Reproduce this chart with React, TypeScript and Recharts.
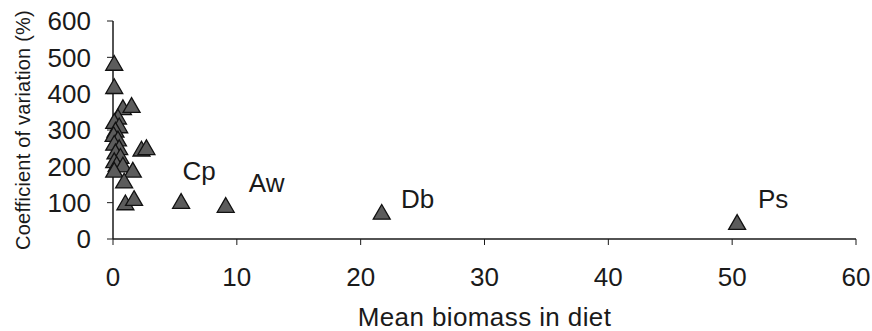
import {
  ScatterChart,
  Scatter,
  XAxis,
  YAxis,
  LabelList,
  Symbols,
} from "recharts";

// unlabelled species, bunched near zero
const clusterBiomass = [
  0.1, 0.1, 0.8, 1.5, 0.4, 0.1, 0.5, 0.2, 0.05, 0.4, 0.1, 0.5, 0.2, 0.6, 0.1,
  0.3, 2.3, 2.7, 0.8, 0.1, 1.6, 0.9, 1.0, 1.7,
];
const clusterCv = [
  478, 414, 356, 362, 330, 318, 306, 294, 282, 270, 258, 246, 234, 222, 210,
  200, 242, 246, 198, 184, 184, 154, 94, 106,
];

// labelled species
const namedSpecies = ["Cp", "Aw", "Db", "Ps"];
const namedBiomass = [5.5, 9.1, 21.7, 50.4];
const namedCv = [98, 87, 68, 40];

const xTicks = [0, 10, 20, 30, 40, 50, 60];
const yTicks = [0, 100, 200, 300, 400, 500, 600];

// where each name sits relative to its marker
const LABEL_OFFSET: Record<string, [number, number]> = {
  Cp: [18, -32],
  Aw: [41, -24],
  Db: [36, -15],
  Ps: [36, -25],
};

const clusterData = clusterBiomass.map((x, i) => ({ x, y: clusterCv[i] }));
const namedData = namedSpecies.map((name, i) => ({
  name,
  x: namedBiomass[i],
  y: namedCv[i],
}));

const FONT = "'Liberation Sans', Arial, sans-serif";
const INK = "#1a1a1a";

function Triangle(props: any) {
  const { cx, cy } = props;
  return (
    <Symbols
      type="triangle"
      size={125}
      cx={cx}
      cy={cy}
      fill="#5c5c5c"
      stroke="#111"
      strokeWidth={1.3}
    />
  );
}

function SpeciesLabel(props: any) {
  const { x, y, width, height, value } = props;
  const [dx, dy] = LABEL_OFFSET[value] || [0, 0];
  const cx = x + width / 2;
  const cy = y + height / 2;
  return (
    <text
      x={cx + dx}
      y={cy + dy}
      textAnchor="middle"
      dominantBaseline="central"
      fontFamily={FONT}
      fontSize={26}
      fill={INK}
    >
      {value}
    </text>
  );
}

export default function App() {
  return (
    <div style={{ position: "absolute", left: 0, top: 0, background: "#fff" }}>
      <ScatterChart
        width={872}
        height={331}
        margin={{ top: 21, right: 16, bottom: 0, left: 0 }}
      >
        <XAxis
          type="number"
          dataKey="x"
          domain={[0, 60]}
          ticks={xTicks}
          interval={0}
          height={92}
          tickSize={6}
          tickMargin={23}
          axisLine={{ stroke: INK, strokeWidth: 1.5 }}
          tickLine={{ stroke: INK }}
          tick={{ fill: INK, fontSize: 26, fontFamily: FONT }}
          label={{
            value: "Mean biomass in diet",
            position: "insideBottom",
            offset: 5,
            style: {
              fill: INK,
              fontSize: 26,
              fontFamily: FONT,
              letterSpacing: 0.4,
              textAnchor: "middle",
            },
          }}
        />
        <YAxis
          type="number"
          dataKey="y"
          domain={[0, 600]}
          ticks={yTicks}
          interval={0}
          width={113}
          tickSize={6}
          tickMargin={16}
          axisLine={{ stroke: INK, strokeWidth: 1.5 }}
          tickLine={{ stroke: INK }}
          tick={{ fill: INK, fontSize: 26, fontFamily: FONT }}
          label={{
            value: "Coefficient of variation (%)",
            angle: -90,
            position: "insideLeft",
            offset: 23,
            style: {
              fill: INK,
              fontSize: 20,
              fontFamily: FONT,
              letterSpacing: 0.2,
              textAnchor: "middle",
            },
          }}
        />
        <Scatter data={clusterData} shape={Triangle} isAnimationActive={false} />
        <Scatter data={namedData} shape={Triangle} isAnimationActive={false}>
          <LabelList dataKey="name" content={SpeciesLabel} />
        </Scatter>
      </ScatterChart>
    </div>
  );
}
